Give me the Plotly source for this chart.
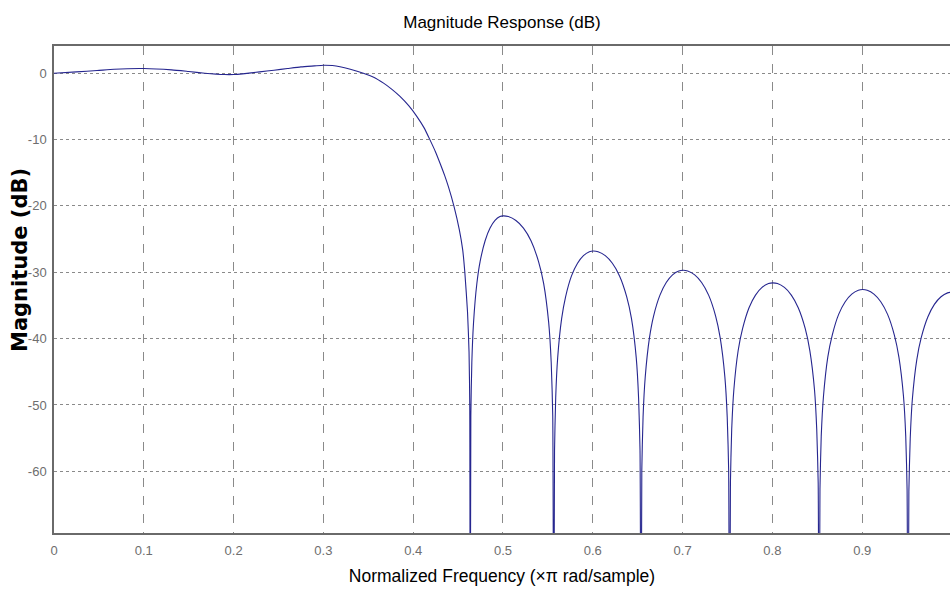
import plotly.graph_objects as go

# ---- data (normalized frequency, magnitude in dB) ----
passband_freq = [0.000, 0.025, 0.048, 0.067, 0.100, 0.131, 0.150, 0.168, 0.190, 0.200,
                 0.210, 0.229, 0.245, 0.260, 0.275, 0.290, 0.300, 0.310, 0.3185, 0.330,
                 0.3445, 0.356, 0.367, 0.376, 0.3853, 0.395, 0.404, 0.412, 0.4187, 0.425,
                 0.430, 0.435, 0.4392, 0.4455, 0.4514, 0.4551, 0.4575, 0.4605, 0.4622,
                 0.4630, 0.4635]
passband_db = [0.0, 0.2, 0.4, 0.6, 0.7, 0.5, 0.25, 0.0, -0.2, -0.2,
               -0.1, 0.2, 0.45, 0.7, 0.95, 1.1, 1.2, 1.15, 0.98, 0.6,
               0.0, -0.6, -1.5, -2.4, -3.5, -4.9, -6.5, -8.2, -10.05, -11.9,
               -13.6, -15.4, -17.1, -20.1, -23.6, -26.6, -30.0, -36.0, -42.0,
               -50.0, -100.0]

lobe1_freq = [0.4642, 0.4653, 0.4672, 0.4709, 0.4745, 0.4801, 0.4856, 0.4911, 0.4966, 0.5003,
              0.5059, 0.5144, 0.5228, 0.5312, 0.5396, 0.5453, 0.5509, 0.5537, 0.5554, 0.5565]
lobe1_db = [-51.6, -43.6, -37.6, -31.7, -28.4, -25.25, -23.34, -22.19, -21.61, -21.5,
            -21.61, -22.19, -23.34, -25.25, -28.4, -31.7, -37.6, -43.6, -51.6, -100.0]

lobe2_freq = [0.5574, 0.5587, 0.5609, 0.5653, 0.5697, 0.5763, 0.5830, 0.5896, 0.5962, 0.6006,
              0.6059, 0.6139, 0.6218, 0.6298, 0.6378, 0.6431, 0.6484, 0.6510, 0.6526, 0.6537]
lobe2_db = [-56.9, -48.9, -42.9, -37.0, -33.7, -30.55, -28.64, -27.49, -26.91, -26.8,
            -26.91, -27.49, -28.64, -30.55, -33.7, -37.0, -42.9, -48.9, -56.9, -100.0]

lobe3_freq = [0.6546, 0.6560, 0.6584, 0.6631, 0.6677, 0.6748, 0.6818, 0.6888, 0.6958, 0.7005,
              0.7057, 0.7135, 0.7212, 0.7290, 0.7368, 0.7419, 0.7471, 0.7497, 0.7513, 0.7523]
lobe3_db = [-59.8, -51.8, -45.8, -39.9, -36.6, -33.45, -31.54, -30.39, -29.81, -29.7,
            -29.81, -30.39, -31.54, -33.45, -36.6, -39.9, -45.8, -51.8, -59.8, -100.0]

lobe4_freq = [0.7533, 0.7547, 0.7571, 0.7619, 0.7668, 0.7740, 0.7812, 0.7885, 0.7957, 0.8005,
              0.8057, 0.8134, 0.8211, 0.8288, 0.8366, 0.8417, 0.8469, 0.8494, 0.8510, 0.8520]
lobe4_db = [-61.7, -53.7, -47.7, -41.8, -38.5, -35.35, -33.44, -32.29, -31.71, -31.6,
            -31.71, -32.29, -33.44, -35.35, -38.5, -41.8, -47.7, -53.7, -61.7, -100.0]

lobe5_freq = [0.8530, 0.8544, 0.8569, 0.8617, 0.8666, 0.8738, 0.8811, 0.8884, 0.8957, 0.9005,
              0.9056, 0.9131, 0.9207, 0.9283, 0.9359, 0.9409, 0.9460, 0.9485, 0.9500, 0.9510]
lobe5_db = [-62.7, -54.7, -48.7, -42.8, -39.5, -36.35, -34.44, -33.29, -32.71, -32.6,
            -32.71, -33.29, -34.44, -36.35, -39.5, -42.8, -48.7, -54.7, -62.7, -100.0]

lobe6_freq = [0.9520, 0.9535, 0.9559, 0.9608, 0.9657, 0.9731, 0.9804, 0.9878, 0.9951, 1.0000]
lobe6_db = [-63.1, -55.1, -49.1, -43.2, -39.9, -36.75, -34.84, -33.69, -33.11, -33.0]

x_ticks = [0, 0.1, 0.2, 0.3, 0.4, 0.5, 0.6, 0.7, 0.8, 0.9]
x_tick_labels = ["0", "0.1", "0.2", "0.3", "0.4", "0.5", "0.6", "0.7", "0.8", "0.9"]
y_ticks = [0, -10, -20, -30, -40, -50, -60]
y_tick_labels = ["0", "-10", "-20", "-30", "-40", "-50", "-60"]

freq = (passband_freq + lobe1_freq + lobe2_freq + lobe3_freq +
        lobe4_freq + lobe5_freq + lobe6_freq)
mag = (passband_db + lobe1_db + lobe2_db + lobe3_db +
       lobe4_db + lobe5_db + lobe6_db)

tick_font = dict(family="Liberation Sans, Arial", size=13, color="#6e6e6e")

fig = go.Figure()
fig.add_trace(go.Scatter(
    x=freq, y=mag, mode="lines",
    line=dict(color="#26268f", width=1.1, shape="spline", smoothing=0.5),
    showlegend=False,
))

fig.update_layout(
    width=950, height=596,
    margin=dict(l=54, r=0, t=46, b=63),
    paper_bgcolor="white", plot_bgcolor="white",
    title=dict(
        text="Magnitude Response (dB)",
        font=dict(family="Liberation Sans, Arial", size=17, color="black"),
        x=0.5, xref="paper", xanchor="center",
        y=1 - 22 / 596, yref="container", yanchor="middle",
    ),
    annotations=[dict(
        text="<b>Magnitude (dB)</b>", textangle=-90,
        font=dict(family="DejaVu Sans", size=21, color="black"),
        xref="paper", x=0, xanchor="center", xshift=-34,
        yref="paper", y=(533 - 260) / 487, yanchor="middle",
        showarrow=False,
    )],
)

fig.update_xaxes(
    range=[0, 0.9978], automargin=False,
    tickvals=x_ticks, ticktext=x_tick_labels,
    tickfont=tick_font, ticks="", ticklabelstandoff=5,
    showgrid=True, gridcolor="#8a8a8a", gridwidth=1, griddash="dash",
    showline=True, linecolor="#6a6a6a", linewidth=1.5, mirror=True,
    zeroline=False,
    title=dict(text="Normalized Frequency (×π rad/sample)",
               font=dict(family="Liberation Sans, Arial", size=17.5, color="black"),
               standoff=12),
)
fig.update_yaxes(
    range=[-69.3, 4.1], automargin=False,
    tickvals=y_ticks, ticktext=y_tick_labels,
    tickfont=tick_font, ticks="", ticklabelstandoff=3,
    showgrid=True, gridcolor="#8a8a8a", gridwidth=1, griddash="dot",
    showline=True, linecolor="#6a6a6a", linewidth=1.5, mirror=False,
    zeroline=False,
)

fig.write_html("out.html", config={"displayModeBar": False},
               post_script="document.body.style.margin='0px';")
